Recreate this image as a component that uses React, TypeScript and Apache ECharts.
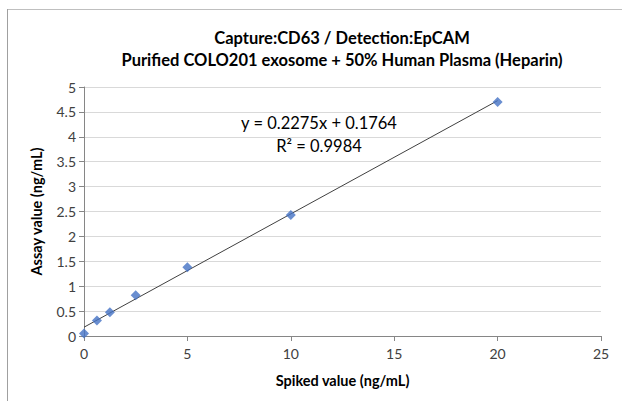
import React, { useEffect, useRef } from "react";
import * as echarts from "echarts";

const spiked = [0, 0.625, 1.25, 2.5, 5, 10, 20];
const assay = [0.05, 0.31, 0.475, 0.82, 1.38, 2.43, 4.7];
const slope = 0.2275;
const intercept = 0.1764;
const trendX = [0, 20];
const titleLines = ["Capture:CD63 / Detection:EpCAM", "Purified COLO201 exosome + 50% Human Plasma (Heparin)"];
const eqLines = ["y = 0.2275x + 0.1764", "R² = 0.9984"];

const FONT = "Lato, 'Open Sans', sans-serif";

export default function App() {
  const ref = useRef<HTMLDivElement>(null);
  useEffect(() => {
    const chart = echarts.init(ref.current!, null, { renderer: "svg" });
    const scatterData = spiked.map((x, i) => [x, assay[i]]);
    const trendData = trendX.map((x) => [x, slope * x + intercept]);
    chart.setOption({
      animation: false,
      backgroundColor: "#ffffff",
      textStyle: { fontFamily: FONT },
      grid: { left: 84, right: 21, top: 87, bottom: 65 },
      title: {
        text: titleLines.join("\n"),
        left: 337,
        top: 22,
        textAlign: "center",
        textStyle: { fontFamily: FONT, fontSize: 16.5, fontWeight: "bold", color: "#000", lineHeight: 22 },
      },
      xAxis: {
        type: "value",
        min: 0,
        max: 25,
        interval: 5,
        name: "Spiked value (ng/mL)",
        nameLocation: "middle",
        nameGap: 37,
        nameTextStyle: { fontFamily: FONT, fontSize: 14.5, fontWeight: "bold", color: "#000" },
        axisLine: { show: true, lineStyle: { color: "#868686" } },
        axisTick: { show: true, length: 5, lineStyle: { color: "#868686" } },
        axisLabel: { fontFamily: FONT, fontSize: 14, color: "#404040", margin: 10 },
        splitLine: { show: false },
      },
      yAxis: {
        type: "value",
        min: 0,
        max: 5,
        interval: 0.5,
        name: "Assay value (ng/mL)",
        nameLocation: "middle",
        nameGap: 40,
        nameTextStyle: { fontFamily: FONT, fontSize: 14.5, fontWeight: "bold", color: "#000" },
        axisLine: { show: true, lineStyle: { color: "#868686" } },
        axisTick: { show: true, length: 5, lineStyle: { color: "#868686" } },
        axisLabel: { fontFamily: FONT, fontSize: 14, color: "#404040", margin: 8 },
        splitLine: { show: true, lineStyle: { color: "#d9d9d9" } },
      },
      series: [
        {
          type: "line",
          data: trendData,
          showSymbol: false,
          symbol: "none",
          lineStyle: { color: "#404040", width: 1 },
          z: 2,
        },
        {
          type: "scatter",
          data: scatterData,
          symbol: "diamond",
          symbolSize: 10,
          itemStyle: { color: "#4472C4" },
          z: 3,
        },
      ],
      graphic: [
        {
          type: "text",
          x: 319,
          y: 134.5,
          style: {
            text: eqLines.join("\n"),
            fontFamily: FONT,
            fontSize: 16.5,
            lineHeight: 23,
            fill: "#000",
            align: "center",
            verticalAlign: "middle",
          },
          z: 10,
        },
        { type: "line", shape: { x1: 7, y1: 9.5, x2: 622, y2: 9.5 }, style: { stroke: "#bfbfbf", lineWidth: 1 } },
        { type: "line", shape: { x1: 7.5, y1: 9, x2: 7.5, y2: 401 }, style: { stroke: "#a0a0a0", lineWidth: 1 } },
      ],
    });
    return () => chart.dispose();
  }, []);
  return <div ref={ref} style={{ position: "fixed", left: 0, top: 0, width: 622, height: 401 }} />;
}
